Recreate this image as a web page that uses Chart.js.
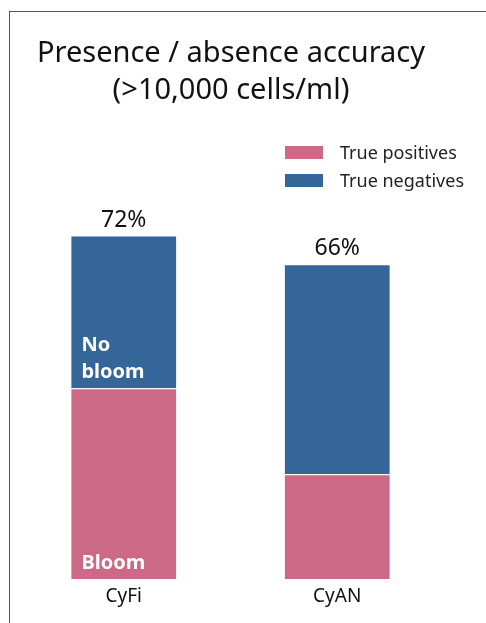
<!DOCTYPE html>
<html>
<head>
<meta charset="utf-8">
<script src="https://cdn.jsdelivr.net/npm/chart.js@4"></script>
<style>
  html, body { margin: 0; padding: 0; background: #fff; }
  body { width: 486px; height: 623px; position: relative; overflow: hidden; font-family: 'Noto Sans', sans-serif; }
  #frame { position: absolute; left: 9px; top: 11px; width: 500px; height: 640px; border-left: 1px solid #555; border-top: 1px solid #555; }
  #wrap { position: absolute; left: 0; top: 0; width: 486px; height: 623px; }
  #title { position: absolute; left: 0; width: 462px; top: 32px; text-align: center; font-size: 29px; line-height: 37px; color: #111; }
  #legend { position: absolute; left: 285px; top: 138px; font-size: 18px; color: #222; }
  .lg-item { display: flex; align-items: center; height: 28px; }
  .lg-box { width: 38px; height: 13px; margin-right: 17px; }
</style>
</head>
<body>
<div id="frame"></div>
<div id="wrap"><canvas id="main-chart"></canvas></div>
<div id="title">Presence / absence accuracy<br>(&gt;10,000 cells/ml)</div>
<div id="legend"></div>
<script>
const categories = ['CyFi', 'CyAN'];
const truePositives = [40, 22];
const trueNegatives = [32, 44];
const totalLabels = ['72%', '66%'];
const PINK = '#CC6986';
const BLUE = '#356699';

// text written inside the bars: [dataset index, category index, lines]
const insideLabels = [
  { ds: 1, idx: 0, lines: ['No', 'bloom'] },
  { ds: 0, idx: 0, lines: ['Bloom'] },
];

const barText = {
  id: 'barText',
  afterDatasetsDraw(chart) {
    const ctx = chart.ctx;
    ctx.save();
    // totals above stacks
    ctx.font = '23px "Noto Sans", sans-serif';
    ctx.fillStyle = '#111';
    ctx.textAlign = 'center';
    ctx.textBaseline = 'bottom';
    const topMeta = chart.getDatasetMeta(1);
    topMeta.data.forEach((bar, i) => {
      ctx.fillText(totalLabels[i], bar.x, bar.y - 4);
    });
    // inside labels, bottom-left of segment
    ctx.font = 'bold 20px "Noto Sans", sans-serif';
    ctx.fillStyle = '#fff';
    ctx.textAlign = 'left';
    ctx.textBaseline = 'alphabetic';
    insideLabels.forEach(l => {
      const bar = chart.getDatasetMeta(l.ds).data[l.idx];
      const left = bar.x - bar.width / 2 + 11;
      const n = l.lines.length;
      l.lines.forEach((t, k) => {
        ctx.fillText(t, left, bar.base - 10 - (n - 1 - k) * 27);
      });
    });
    ctx.restore();
  }
};

const chart = new Chart(document.getElementById('main-chart'), {
  type: 'bar',
  data: {
    labels: categories,
    datasets: [
      { label: 'True positives', data: truePositives, backgroundColor: PINK, borderColor: 'rgba(255,255,255,0.7)', borderWidth: 1 },
      { label: 'True negatives', data: trueNegatives, backgroundColor: BLUE, borderColor: 'rgba(255,255,255,0.7)', borderWidth: 1 }
    ]
  },
  options: {
    responsive: true, maintainAspectRatio: false,
    animation: false,
    layout: { padding: { left: 17, right: 42, top: 102, bottom: 9 } },
    datasets: { bar: { categoryPercentage: 1, barPercentage: 0.5 } },
    plugins: {
      legend: { display: false },
      title: { display: false },
      tooltip: { enabled: false }
    },
    scales: {
      x: {
        stacked: true,
        grid: { display: false, drawTicks: false }, border: { display: false },
        ticks: { color: '#111', padding: 6, font: { family: 'Noto Sans', size: 19 } }
      },
      y: {
        stacked: true, display: false, min: 0, max: 100
      }
    }
  },
  plugins: [barText]
});

document.getElementById('legend').innerHTML = chart.data.datasets.map(d =>
  `<div class="lg-item"><div class="lg-box" style="background:${d.backgroundColor}"></div><span>${d.label}</span></div>`
).join('');
</script>
</body>
</html>
